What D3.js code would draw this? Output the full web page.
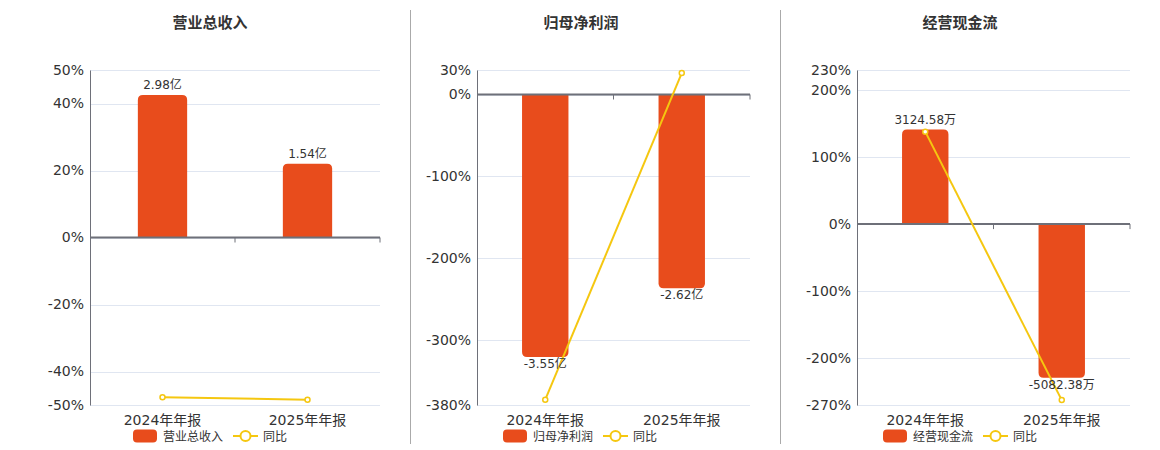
<!DOCTYPE html>
<html>
<head>
<meta charset="utf-8">
<script src="https://cdn.jsdelivr.net/npm/d3@7"></script>
<style>
  body { margin: 0; background: #fff; }
  svg { font-family: "DejaVu Sans", "Noto Sans CJK SC", sans-serif; }
</style>
</head>
<body>
<svg id="chart" width="1160" height="450"></svg>
<script>
// categories
var categories = ["2024年年报", "2025年年报"];

// 营业总收入 (亿)
var revenue = [2.98, 1.54];
var revenueYoy = [-47.7, -48.4];
var revenueTicks = [50, 40, 20, 0, -20, -40, -50];

// 归母净利润 (亿)
var profit = [-3.55, -2.62];
var profitYoy = [-373.5, 26.2];
var profitTicks = [30, 0, -100, -200, -300, -380];

// 经营现金流 (万)
var cashflow = [3124.58, -5082.38];
var cashflowYoy = [138.0, -262.7];
var cashflowTicks = [230, 200, 100, 0, -100, -200, -270];

var panels = [
    { title: "营业总收入", values: revenue, yoy: revenueYoy, ticks: revenueTicks, unit: "亿", barMin: -3.5,
      x0: 90, x1: 380, titleX: 210, legendX: 133 },
    { title: "归母净利润", values: profit, yoy: profitYoy, ticks: profitTicks, unit: "亿", barMin: -4.2,
      x0: 477, x1: 750, titleX: 581, legendX: 503 },
    { title: "经营现金流", values: cashflow, yoy: cashflowYoy, ticks: cashflowTicks, unit: "万", barMin: -5980,
      x0: 857, x1: 1130, titleX: 960, legendX: 883 }
];

var barColor = "#e84c1c";
var lineColor = "#f5c710";
var axisColor = "#6e7079";
var gridColor = "#e0e6f1";
var textColor = "#333";
var y0 = 70, y1 = 405;

var svg = d3.select("#chart");

// separators
[410.5, 780.5].forEach(function (x) {
    svg.append("line")
        .attr("x1", x).attr("x2", x).attr("y1", 10).attr("y2", 444)
        .attr("stroke", "#aaa").attr("stroke-width", 1);
});

function barPath(x, w, yZero, yEnd, r) {
    var h = Math.abs(yEnd - yZero);
    r = Math.min(r, h, w / 2);
    if (yEnd < yZero) {
        return "M" + x + "," + yZero +
            "V" + (yEnd + r) +
            "Q" + x + "," + yEnd + " " + (x + r) + "," + yEnd +
            "H" + (x + w - r) +
            "Q" + (x + w) + "," + yEnd + " " + (x + w) + "," + (yEnd + r) +
            "V" + yZero + "Z";
    }
    return "M" + x + "," + yZero +
        "V" + (yEnd - r) +
        "Q" + x + "," + yEnd + " " + (x + r) + "," + yEnd +
        "H" + (x + w - r) +
        "Q" + (x + w) + "," + yEnd + " " + (x + w) + "," + (yEnd - r) +
        "V" + yZero + "Z";
}

panels.forEach(function (p) {
    var g = svg.append("g");
    var yMax = d3.max(p.ticks), yMin = d3.min(p.ticks);

    var x = d3.scaleBand().domain(categories).range([p.x0, p.x1]);
    var y = d3.scaleLinear().domain([yMin, yMax]).range([y1, y0]);
    // hidden axis for the bars, zero aligned with the percent axis
    var yBar = d3.scaleLinear().domain([p.barMin, p.barMin * yMax / yMin]).range([y1, y0]);

    // title
    g.append("text")
        .attr("x", p.titleX).attr("y", 28)
        .attr("text-anchor", "middle")
        .attr("font-size", 15).attr("font-weight", "bold")
        .attr("fill", textColor)
        .text(p.title);

    // grid
    g.append("g")
        .selectAll("line")
        .data(p.ticks)
        .join("line")
        .attr("x1", p.x0).attr("x2", p.x1)
        .attr("y1", function (d) { return Math.round(y(d)) + 0.5; })
        .attr("y2", function (d) { return Math.round(y(d)) + 0.5; })
        .attr("stroke", gridColor);

    // y axis
    var yAxis = g.append("g")
        .attr("transform", "translate(" + p.x0 + ",0)")
        .call(d3.axisLeft(y).tickValues(p.ticks).tickSize(0).tickPadding(6)
            .tickFormat(function (d) { return d + "%"; }));
    yAxis.select(".domain").attr("stroke", axisColor);
    yAxis.selectAll("text").attr("font-size", 14).attr("fill", textColor)
        .attr("font-family", "DejaVu Sans, sans-serif");

    // bars
    g.append("g")
        .selectAll("path")
        .data(p.values)
        .join("path")
        .attr("d", function (d, i) {
            var bw = x.bandwidth() * 0.34;
            var bx = x(categories[i]) + (x.bandwidth() - bw) / 2;
            return barPath(bx, bw, yBar(0), yBar(d), 5);
        })
        .attr("fill", barColor);

    // zero axis
    var zy = y(0);
    g.append("line")
        .attr("x1", p.x0).attr("x2", p.x1).attr("y1", zy).attr("y2", zy)
        .attr("stroke", axisColor).attr("stroke-width", 2);
    var bounds = [p.x0 + x.bandwidth(), p.x1];
    g.append("g")
        .selectAll("line")
        .data(bounds)
        .join("line")
        .attr("x1", function (d) { return d; })
        .attr("x2", function (d) { return d; })
        .attr("y1", zy).attr("y2", zy + 5)
        .attr("stroke", axisColor);

    // x labels
    g.append("g")
        .selectAll("text")
        .data(categories)
        .join("text")
        .attr("x", function (d) { return x(d) + x.bandwidth() / 2; })
        .attr("y", 425)
        .attr("text-anchor", "middle")
        .attr("font-size", 14)
        .attr("fill", textColor)
        .text(function (d) { return d; });

    // line
    var line = d3.line()
        .x(function (d, i) { return x(categories[i]) + x.bandwidth() / 2; })
        .y(function (d) { return y(d); });
    g.append("path")
        .datum(p.yoy)
        .attr("fill", "none")
        .attr("stroke", lineColor)
        .attr("stroke-width", 2)
        .attr("d", line);
    g.append("g")
        .selectAll("circle")
        .data(p.yoy)
        .join("circle")
        .attr("cx", function (d, i) { return x(categories[i]) + x.bandwidth() / 2; })
        .attr("cy", function (d) { return y(d); })
        .attr("r", 2.5)
        .attr("fill", "#fff")
        .attr("stroke", lineColor)
        .attr("stroke-width", 1.5);

    // bar labels
    g.append("g")
        .selectAll("text")
        .data(p.values)
        .join("text")
        .attr("x", function (d, i) { return x(categories[i]) + x.bandwidth() / 2; })
        .attr("y", function (d) { return d >= 0 ? yBar(d) - 6 : yBar(d) + 11; })
        .attr("text-anchor", "middle")
        .attr("font-size", 12)
        .attr("fill", textColor)
        .text(function (d) { return d + p.unit; });

    // legend
    var lg = g.append("g").attr("transform", "translate(" + p.legendX + ",436)");
    lg.append("rect")
        .attr("x", 0).attr("y", -6.5).attr("width", 24).attr("height", 13).attr("rx", 4)
        .attr("fill", barColor);
    lg.append("text")
        .attr("x", 30).attr("y", 4.5)
        .attr("font-size", 12).attr("fill", textColor)
        .text(p.title);
    lg.append("line")
        .attr("x1", 100).attr("x2", 125).attr("y1", 0).attr("y2", 0)
        .attr("stroke", lineColor).attr("stroke-width", 2);
    lg.append("circle")
        .attr("cx", 112.5).attr("cy", 0).attr("r", 5)
        .attr("fill", "#fff").attr("stroke", lineColor).attr("stroke-width", 2);
    lg.append("text")
        .attr("x", 130).attr("y", 4.5)
        .attr("font-size", 12).attr("fill", textColor)
        .text("同比");
});
</script>
</body>
</html>
